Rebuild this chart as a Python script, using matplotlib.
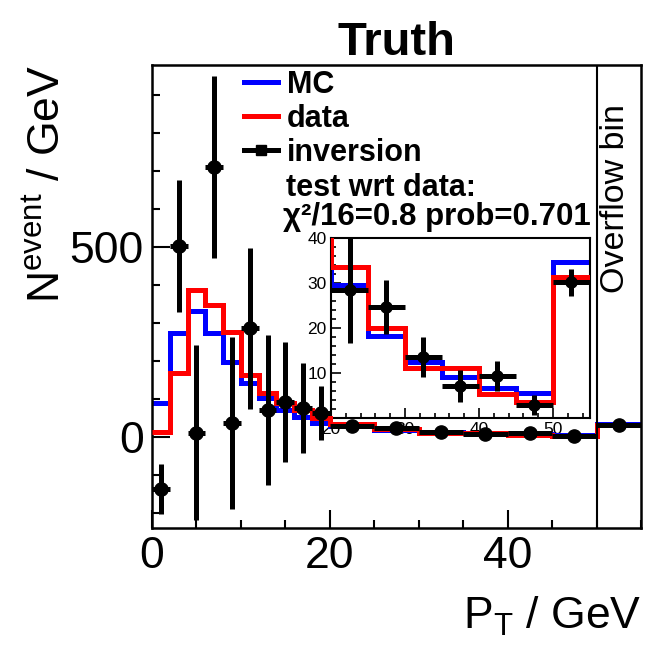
#!/usr/bin/env python3

import numpy as np
import matplotlib
matplotlib.use('Agg')
import matplotlib.pyplot as plt
from matplotlib.lines import Line2D
from matplotlib.ticker import MultipleLocator

plt.rcParams['font.family'] = ['Liberation Sans', 'DejaVu Sans']
plt.rcParams['mathtext.default'] = 'regular'

# bin edges: 2 GeV up to 20, then 5 GeV, last bin is the overflow
edges = [0, 2, 4, 6, 8, 10, 12, 14, 16, 18, 20, 25, 30, 35, 40, 45, 50, 55]
mc = [89, 274, 332, 273, 198, 141, 102, 71, 53, 36,
      29.6, 18.2, 12.4, 9.1, 6.7, 5.6, 34.7]
data = [14, 169, 387, 347, 277, 163, 115, 89, 71, 50,
        33.6, 20.0, 11.1, 11.1, 5.3, 3.6, 31.3]
inversion = [-138, 503, 11, 711, 36, 286, 71, 93, 76, 62,
             28.4, 24.7, 13.6, 7.1, 9.3, 2.9, 30.2]
inversion_err = [66, 175, 230, 240, 227, 212, 197, 158, 118, 71,
                 11.8, 6.0, 4.4, 3.5, 3.3, 2.2, 3.0]
inset_yticks = [10, 20, 30, 40]

LW = 3.6


def draw_hists(ax, ms):
    e = np.array(edges, dtype=float)
    centers = 0.5 * (e[:-1] + e[1:])
    half = 0.5 * np.diff(e)
    ax.stairs(mc, e, baseline=None, color='#0000ff', lw=LW, zorder=2)
    ax.stairs(data, e, baseline=None, color='#ff0000', lw=LW, zorder=3)
    ax.errorbar(centers, inversion, yerr=inversion_err, xerr=half, fmt='o',
                color='k', ms=ms, elinewidth=LW, capsize=0, zorder=4)


fig = plt.figure(figsize=(6.64, 6.64), dpi=100)
ax = fig.add_axes([0.2289, 0.2048, 0.7364, 0.6973], zorder=2)
ax.patch.set_alpha(0)
draw_hists(ax, 9.5)
ax.axvline(50, color='k', lw=1.5, zorder=5)
ax.set_xlim(0, 55)
ax.set_ylim(-240, 980)
ax.xaxis.set_major_locator(MultipleLocator(20))
ax.xaxis.set_minor_locator(MultipleLocator(5))
ax.yaxis.set_major_locator(MultipleLocator(500))
ax.yaxis.set_minor_locator(MultipleLocator(100))
ax.tick_params(which='both', direction='in', top=False, right=False,
               labelsize=32, width=1.5)
ax.tick_params(which='major', length=13, pad=6)
ax.tick_params(which='minor', length=6)
for s in ax.spines.values():
    s.set_linewidth(1.8)

ax.set_title('Truth', fontsize=34, fontweight='bold', pad=5)
ax.set_ylabel(r'N$^{event}$ / GeV', fontsize=32, loc='top')
ax.yaxis.set_label_coords(-0.17, 1.0)
ax.set_xlabel(r'P$_{T}$ / GeV', fontsize=32, loc='right')
ax.xaxis.set_label_coords(1.0, -0.145)

ax.text(52.1, 629, 'Overflow bin', rotation=90, fontsize=24.5,
        ha='center', va='center')

handles = [Line2D([], [], color='#0000ff', lw=LW),
           Line2D([], [], color='#ff0000', lw=LW),
           Line2D([], [], color='k', lw=LW, marker='s', ms=7)]
fig.legend(handles, ['MC', 'data', 'inversion'], loc='upper left',
           bbox_to_anchor=(244 / 664, 1 - 70 / 664), frameon=False,
           prop={'size': 22, 'weight': 'bold'}, handlelength=1.1,
           handletextpad=0.3, labelspacing=0.13, borderpad=0,
           borderaxespad=0)
fig.text(286 / 664, 1 - 188 / 664, 'test wrt data:', fontsize=22,
         fontweight='bold', va='center')
fig.text(283 / 664, 1 - 217 / 664, 'χ²/16=0.8 prob=0.701', fontsize=22.5,
         fontweight='bold', va='center')

# inset with the tail of the distribution
ins = fig.add_axes([0.4985, 0.3705, 0.39, 0.271], zorder=1)
draw_hists(ins, 8)
ins.set_xlim(20, 55)
ins.set_ylim(0, 40)
ins.xaxis.set_major_locator(MultipleLocator(10))
ins.xaxis.set_minor_locator(MultipleLocator(2))
ins.set_yticks(inset_yticks)
ins.yaxis.set_minor_locator(MultipleLocator(2))
ins.tick_params(which='both', direction='in', top=False, right=False,
                labelsize=12.5, width=1.2, pad=3)
ins.tick_params(which='major', length=7)
ins.tick_params(which='minor', length=3.5)
for s in ins.spines.values():
    s.set_linewidth(1.5)

fig.savefig('out.png', dpi=100, facecolor='white')
